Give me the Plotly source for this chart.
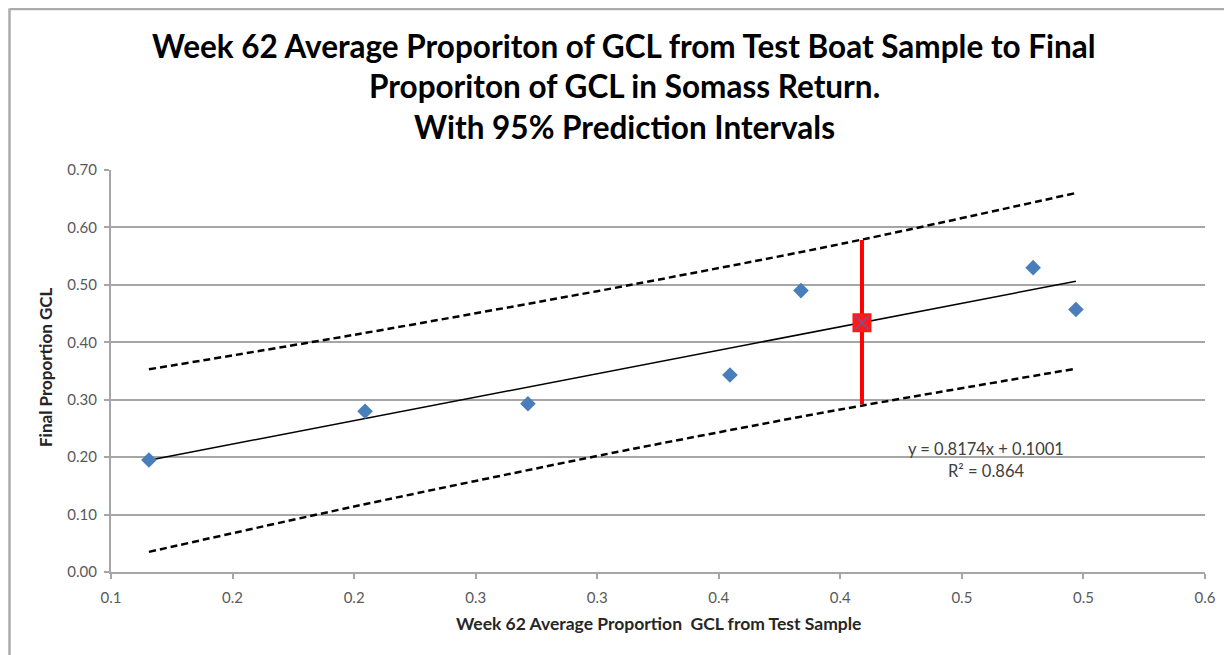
import plotly.graph_objects as go

obs_x = [0.1156, 0.2045, 0.2715, 0.3546, 0.3838, 0.4793, 0.4969]
obs_y = [0.195, 0.280, 0.293, 0.343, 0.490, 0.530, 0.457]

# Trend line (from displayed equation y = 0.8174x + 0.1001)
slope = 0.8174
intercept = 0.1001
trend_x = [0.1156, 0.4969]
trend_y = [slope * v + intercept for v in trend_x]

# 95% prediction interval bands
band_x = [0.1156, 0.20, 0.30, 0.33, 0.40, 0.4969]
band_upper = [0.353, 0.413, 0.489, 0.513, 0.571, 0.660]
band_lower = [0.035, 0.114, 0.202, 0.227, 0.283, 0.354]

# Week 62 prediction point with interval
pred_x = [0.4089]
pred_y = [0.434]
pred_hi = [0.578]
pred_lo = [0.292]

# Axis tick labels (Excel-style rounding)
xtick_vals = [0.10, 0.15, 0.20, 0.25, 0.30, 0.35, 0.40, 0.45, 0.50, 0.55]
xtick_text = ["0.1", "0.2", "0.2", "0.3", "0.3", "0.4", "0.4", "0.5", "0.5", "0.6"]

FONT = "Lato"
GRID = "#A6A6A6"
TICKC = "#595959"

fig = go.Figure()

for band in (band_upper, band_lower):
    fig.add_trace(go.Scatter(x=band_x, y=band, mode="lines",
                             line=dict(color="black", width=2.5, dash="7px,4px", shape="spline"),
                             showlegend=False, hoverinfo="skip"))
fig.add_trace(go.Scatter(x=trend_x, y=trend_y, mode="lines",
                         line=dict(color="black", width=1.5), showlegend=False))
fig.add_trace(go.Scatter(x=obs_x, y=obs_y, mode="markers",
                         marker=dict(symbol="diamond", size=12, color="#4A7EBB"),
                         showlegend=False))
fig.add_trace(go.Scatter(
    x=pred_x, y=pred_y, mode="markers",
    marker=dict(symbol="square", size=19, color="#FF1A1A"),
    error_y=dict(type="data", symmetric=False,
                 array=[h - y for h, y in zip(pred_hi, pred_y)],
                 arrayminus=[y - l for l, y in zip(pred_lo, pred_y)],
                 color="#FF0000", thickness=4, width=0),
    showlegend=False))
fig.add_trace(go.Scatter(x=pred_x, y=pred_y, mode="markers",
                         marker=dict(symbol="x-thin", size=13,
                                     line=dict(color="#6A5AA0", width=1.5)),
                         showlegend=False))

# page is offset by the browser's 8px body margin
OFF = 8
W, H = 1232, 655
PL, PR, PT, PB = 111, 1205, 170, 572  # target page pixel positions of plot area
L, T = PL - OFF, PT - OFF
R = W - (PR - OFF)
B = H - (PB - OFF)
pw, ph = W - L - R, H - T - B

def px(xp):
    return (xp - PL) / pw

def py(yp):
    return (PB - yp) / ph

title_lines = [
    ("Week 62 Average Proporiton of GCL from Test Boat Sample to Final", 46),
    ("Proporiton of GCL in Somass Return.", 86),
    ("With 95% Prediction Intervals", 127),
]
annotations = []
for txt, yc in title_lines:
    annotations.append(dict(text=f"<b>{txt}</b>", x=px(624), y=py(yc), xref="paper", yref="paper",
                            showarrow=False, xanchor="center", yanchor="middle",
                            font=dict(family=FONT, size=31.5, color="black")))
annotations.append(dict(text="y = 0.8174x + 0.1001", x=px(986), y=py(449), xref="paper", yref="paper",
                        showarrow=False, xanchor="center", yanchor="middle",
                        font=dict(family=FONT, size=16.5, color="#404040")))
annotations.append(dict(text="R² = 0.864", x=px(986), y=py(471), xref="paper", yref="paper",
                        showarrow=False, xanchor="center", yanchor="middle",
                        font=dict(family=FONT, size=16.5, color="#404040")))
annotations.append(dict(text="<b>Week 62 Average Proportion  GCL from Test Sample</b>",
                        x=px(658), y=py(623), xref="paper", yref="paper",
                        showarrow=False, xanchor="center", yanchor="middle",
                        font=dict(family=FONT, size=17.5, color="#262626")))
annotations.append(dict(text="<b>Final Proportion GCL</b>", textangle=-90,
                        x=px(45), y=py(367), xref="paper", yref="paper",
                        showarrow=False, xanchor="center", yanchor="middle",
                        font=dict(family=FONT, size=17, color="#262626")))

shapes = [
    dict(type="line", xref="paper", yref="paper", x0=px(9.5), x1=px(9.5), y0=py(8.5), y1=py(680),
         line=dict(color="#ABABAB", width=2.5)),
    dict(type="line", xref="paper", yref="paper", x0=px(9.5), x1=px(1260), y0=py(9), y1=py(9),
         line=dict(color="#ABABAB", width=2.5)),
]

fig.update_layout(
    width=W, height=H,
    margin=dict(l=L, r=R, t=T, b=B),
    paper_bgcolor="white", plot_bgcolor="white",
    annotations=annotations, shapes=shapes,
    font=dict(family=FONT, size=15, color=TICKC),
    xaxis=dict(range=[0.1, 0.55], tickvals=xtick_vals, ticktext=xtick_text,
               showgrid=False, zeroline=False, showline=True, linecolor=GRID, linewidth=2,
               ticks="outside", ticklen=5, tickcolor=GRID, tickwidth=2, ticklabelstandoff=6,
               tickfont=dict(family=FONT, size=15, color=TICKC)),
    yaxis=dict(range=[0, 0.70], dtick=0.10, tickformat=".2f",
               showgrid=True, gridcolor=GRID, gridwidth=2, zeroline=False,
               showline=True, linecolor=GRID, linewidth=2,
               ticks="outside", ticklen=5, tickcolor=GRID, tickwidth=2, ticklabelstandoff=4,
               tickfont=dict(family=FONT, size=15, color=TICKC)),
)

fig.write_html("out.html")
